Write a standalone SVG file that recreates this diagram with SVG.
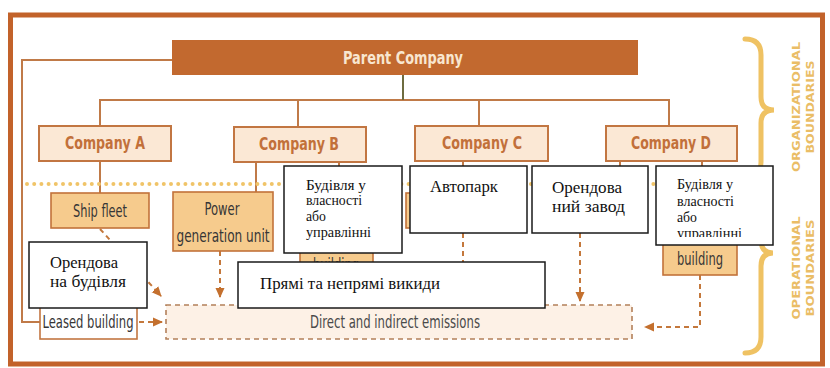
<svg xmlns="http://www.w3.org/2000/svg" width="830" height="368" viewBox="0 0 830 368">
<style>
.lbl{font-family:"DejaVu Sans Condensed","DejaVu Sans","Liberation Sans",sans-serif;font-stretch:condensed}
.co{fill:#fbe8d5;stroke:#c27642;stroke-width:2}
.cot{font-size:18px;font-weight:bold;fill:#c2703a;text-anchor:middle}
.op{fill:#f6cb8d;stroke:#c2723a;stroke-width:1.6}
.opt{font-size:17px;fill:#363636;text-anchor:middle}
.line{fill:none;stroke:#c07a48;stroke-width:2}
.dash{fill:none;stroke:#c4783c;stroke-width:2;stroke-dasharray:5 4}
.wb{fill:#ffffff;stroke:#1a1a1a;stroke-width:1.5}
.uk{font-family:"Liberation Serif","DejaVu Serif",serif;fill:#111}
.brace{fill:none;stroke:#efc263;stroke-width:5;stroke-linecap:round}
.bt{font-family:"DejaVu Sans","Liberation Sans",sans-serif;font-size:11px;font-weight:bold;fill:#eabd66;text-anchor:middle}
</style>
<defs>
<marker id="ah" viewBox="0 0 10 10" refX="9" refY="5" markerWidth="5" markerHeight="5" orient="auto" markerUnits="strokeWidth">
<path d="M0,0.5 L10,5 L0,9.5 Z" fill="#c4702e"/>
</marker>
<clipPath id="clipD"><rect x="656" y="166" width="117" height="71"/></clipPath>
</defs>
<rect x="0" y="0" width="830" height="368" fill="#ffffff"/>
<rect id="frame" x="10.5" y="15" width="812" height="349" fill="none" stroke="#c2622a" stroke-width="5"/>

<g id="emissions">
<rect x="166" y="305" width="466" height="34" fill="#fdf1e6" stroke="#b3805a" stroke-width="1.6" stroke-dasharray="5 4"/>
<text class="lbl" x="395" y="328" font-size="17" fill="#4a4a4a" text-anchor="middle" textLength="170" lengthAdjust="spacingAndGlyphs">Direct and indirect emissions</text>
</g>

<g id="connectors">
<path class="line" d="M172,60 H22 V322 H40"/>
<path class="line" d="M100,126 V100 H669 V126 M298,100 V127 M479,100 V126"/>
<line x1="403" y1="75" x2="403" y2="100" stroke="#6e6c40" stroke-width="2"/>
<path class="line" d="M100,161 V193 M256,162 V192 M339,162 V170 M463,161 V170 M620,161 V170 M702,161 V170"/>
<line x1="27" y1="184" x2="752" y2="184" stroke="#f0c468" stroke-width="4" stroke-linecap="round" stroke-dasharray="0 7.2"/>
<line class="dash" x1="100" y1="229" x2="161" y2="296" marker-end="url(#ah)"/>
<line class="dash" x1="220" y1="251" x2="220" y2="297" marker-end="url(#ah)"/>
<line class="dash" x1="139" y1="322" x2="162" y2="322" marker-end="url(#ah)"/>
<line class="dash" x1="463" y1="233" x2="463" y2="262"/>
<line class="dash" x1="580" y1="233" x2="580" y2="301" marker-end="url(#ah)"/>
<path class="dash" d="M700,275 V327 H645" marker-end="url(#ah)"/>
</g>

<g id="parent">
<rect x="172" y="40" width="466" height="35" fill="#c2692f"/>
<text class="lbl" x="403" y="64" font-size="18" font-weight="bold" fill="#f8e6d0" text-anchor="middle" textLength="120" lengthAdjust="spacingAndGlyphs">Parent Company</text>
</g>
<g id="companyA"><rect class="co" x="39" y="126" width="132" height="35"/><text class="lbl cot" x="105" y="149" textLength="80" lengthAdjust="spacingAndGlyphs">Company A</text></g>
<g id="companyB"><rect class="co" x="234" y="127" width="132" height="35"/><text class="lbl cot" x="299" y="150" textLength="80" lengthAdjust="spacingAndGlyphs">Company B</text></g>
<g id="companyC"><rect class="co" x="415" y="126" width="133" height="35"/><text class="lbl cot" x="482" y="149" textLength="80" lengthAdjust="spacingAndGlyphs">Company C</text></g>
<g id="companyD"><rect class="co" x="606" y="126" width="131" height="35"/><text class="lbl cot" x="671" y="149" textLength="80" lengthAdjust="spacingAndGlyphs">Company D</text></g>

<g id="shipFleet"><rect class="op" x="51" y="193" width="98" height="35"/><text class="lbl opt" x="100" y="217" textLength="54" lengthAdjust="spacingAndGlyphs">Ship fleet</text></g>
<g id="powerUnit"><rect class="op" x="173" y="192" width="100" height="59"/><text class="lbl opt" x="222" y="215" textLength="35" lengthAdjust="spacingAndGlyphs">Power</text><text class="lbl opt" x="223" y="242" textLength="93" lengthAdjust="spacingAndGlyphs">generation unit</text></g>
<g id="buildingB"><rect class="op" x="300" y="226" width="73" height="54"/><text class="lbl opt" x="336" y="271" textLength="46" lengthAdjust="spacingAndGlyphs">building</text></g>
<g id="fleetC"><rect class="op" x="406" y="193" width="100" height="35"/></g>
<g id="buildingD"><rect class="op" x="663" y="240" width="74" height="35"/><text class="lbl opt" x="700" y="265" textLength="46" lengthAdjust="spacingAndGlyphs">building</text></g>
<g id="leasedBuilding"><rect x="40" y="303" width="97" height="36" fill="#ffffff" stroke="#c27642" stroke-width="1.6"/><text class="lbl opt" x="88" y="328" textLength="91" lengthAdjust="spacingAndGlyphs">Leased building</text></g>

<g id="orgBoundaries">
<path class="brace" d="M745,39 Q761,39 761,55 L761,97 Q761,110 774,110 Q761,110 761,123 L761,162 Q761,177 745,177"/>
<text class="bt" transform="translate(796,107) rotate(-90)" x="0" y="4" textLength="130" lengthAdjust="spacingAndGlyphs">ORGANIZATIONAL</text>
<text class="bt" transform="translate(810,107) rotate(-90)" x="0" y="4" textLength="93" lengthAdjust="spacingAndGlyphs">BOUNDARIES</text>
</g>
<g id="opBoundaries">
<path class="brace" d="M745,182 Q761,182 761,198 L761,240 Q761,253 773,253 Q761,253 761,266 L761,337 Q761,353 745,353"/>
<text class="bt" transform="translate(796,268) rotate(-90)" x="0" y="4" textLength="103" lengthAdjust="spacingAndGlyphs">OPERATIONAL</text>
<text class="bt" transform="translate(810,268) rotate(-90)" x="0" y="4" textLength="97" lengthAdjust="spacingAndGlyphs">BOUNDARIES</text>
</g>

<g id="ukLeasedBuilding"><rect class="wb" x="29" y="242" width="118" height="66"/>
<text class="uk" x="50" y="268" font-size="16" textLength="68" lengthAdjust="spacingAndGlyphs">Орендова</text>
<text class="uk" x="50" y="287" font-size="16" textLength="76" lengthAdjust="spacingAndGlyphs">на будівля</text></g>
<g id="ukOwnedB"><rect class="wb" x="284" y="166" width="118" height="87"/>
<text class="uk" x="306" y="190" font-size="14" textLength="60" lengthAdjust="spacingAndGlyphs">Будівля у</text>
<text class="uk" x="306" y="205" font-size="14" textLength="56" lengthAdjust="spacingAndGlyphs">власності</text>
<text class="uk" x="306" y="221" font-size="14" textLength="20" lengthAdjust="spacingAndGlyphs">або</text>
<text class="uk" x="306" y="237" font-size="14" textLength="65" lengthAdjust="spacingAndGlyphs">управлінні</text></g>
<g id="ukFleet"><rect class="wb" x="410" y="166" width="117" height="67"/>
<text class="uk" x="430" y="192" font-size="16" textLength="68" lengthAdjust="spacingAndGlyphs">Автопарк</text></g>
<g id="ukLeasedFactory"><rect class="wb" x="532" y="166" width="116" height="67"/>
<text class="uk" x="552" y="193" font-size="16" textLength="70" lengthAdjust="spacingAndGlyphs">Орендова</text>
<text class="uk" x="552" y="212" font-size="16" textLength="73" lengthAdjust="spacingAndGlyphs">ний завод</text></g>
<g id="ukOwnedD"><rect class="wb" x="656" y="166" width="117" height="79"/>
<g clip-path="url(#clipD)">
<text class="uk" x="677" y="189" font-size="14" textLength="56" lengthAdjust="spacingAndGlyphs">Будівля у</text>
<text class="uk" x="677" y="206" font-size="14" textLength="57" lengthAdjust="spacingAndGlyphs">власності</text>
<text class="uk" x="677" y="222" font-size="14" textLength="20" lengthAdjust="spacingAndGlyphs">або</text>
<text class="uk" x="677" y="238" font-size="14" textLength="65" lengthAdjust="spacingAndGlyphs">управлінні</text></g></g>
<g id="ukEmissions"><rect class="wb" x="238" y="262" width="307" height="46"/>
<text class="uk" x="260" y="289" font-size="16" textLength="180" lengthAdjust="spacingAndGlyphs">Прямі та непрямі викиди</text></g>
</svg>
